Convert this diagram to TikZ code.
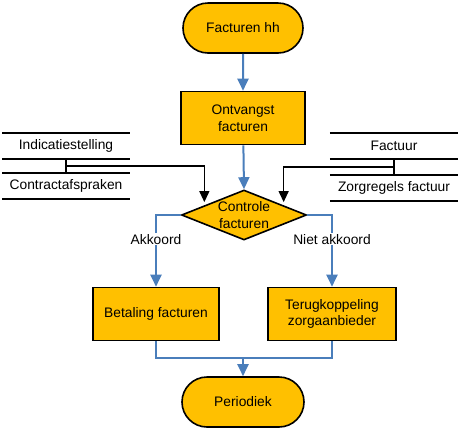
\documentclass[tikz,border=0pt]{standalone}
\usepackage{fontspec}
\setmainfont{Liberation Sans}
\usepackage{xcolor}
\usetikzlibrary{arrows.meta, shapes.geometric, shapes.misc, calc}

\definecolor{boxfill}{RGB}{255,192,0}
\definecolor{flowblue}{RGB}{74,126,187}

\begin{document}
\begin{tikzpicture}[
  x=1pt, y=-1pt,
  every node/.style = {font=\fontsize{13.8}{16.8}\selectfont, align=center},
  proc/.style     = {draw, line width=1.6pt, fill=boxfill, inner sep=2pt},
  term/.style     = {proc, rounded rectangle, minimum width=124pt, minimum height=50pt},
  actbox/.style   = {proc, minimum height=53pt},
  check/.style    = {proc, diamond, aspect=2.5, inner sep=-6pt,
                     minimum width=125pt, minimum height=50pt},
  store/.style    = {minimum height=26pt, inner sep=0pt},
  storeline/.style= {line width=1.6pt},
  flow/.style     = {-{Triangle[length=12pt, width=11pt]}, line width=2pt, flowblue},
  link/.style     = {line width=2pt, flowblue},
  feed/.style     = {-{Triangle[length=11pt, width=10pt]}, line width=1.2pt},
  lbl/.style      = {fill=white, text=black, inner sep=1pt},
]
\useasboundingbox (0,0) rectangle (461,432);

%% Main flow
\node[term]                         (fhh)  at (243, 28)  {Facturen hh};
\node[actbox, minimum width=124pt]  (ontv) at (243, 118) {Ontvangst\\facturen};
\node[check]                        (ctrl) at (244, 215) {Controle\\facturen};
\node[actbox, minimum width=126pt]  (bet)  at (156, 314) {Betaling facturen};
\node[actbox, minimum width=128pt]  (ter)  at (332, 314) {Terugkoppeling\\zorgaanbieder};
\node[term, minimum width=126pt]    (per)  at (243, 402) {Periodiek};

%% Data stores
\node[store, minimum width=127pt] (ind) at (66, 146)  {Indicatiestelling};
\node[store, minimum width=127pt] (con) at (66, 186)  {Contractafspraken};
\node[store, minimum width=128pt] (fac) at (394, 146) {Factuur};
\node[store, minimum width=128pt] (zrg) at (394, 188) {Zorgregels factuur};
\foreach \s in {ind, con, fac, zrg}
  \draw[storeline] (\s.north west) -- (\s.north east)
                   (\s.south west) -- (\s.south east);

%% Arrows along the main flow
\draw[flow] (fhh) -- (ontv);
\draw[flow] (ontv) -- (ctrl.north);
\draw[flow] (ctrl.west) -| node[lbl, pos=0.67]{Akkoord} (bet.north);
\draw[flow] (ctrl.east) -| node[lbl, pos=0.67]{Niet akkoord} (ter.north);

%% Both results merge into Periodiek
\coordinate (merge) at (243, 358);
\draw[link] (bet.south) |- (merge) -| (ter.south);
\draw[flow] (merge) -- (per.north);

%% Inputs from the data stores
\draw[line width=1.2pt] (ind.south) -- (con.north);
\draw[line width=1.2pt] (fac.south) -- (zrg.north);
\coordinate (inL) at ([xshift=-8pt]ctrl.north west);
\coordinate (inR) at ([xshift=8pt]ctrl.north east);
\draw[feed] ($(ind.south)!0.5!(con.north)$) -| (inL);
\draw[feed] ($(fac.south)!0.5!(zrg.north)$) -| (inR);

\end{tikzpicture}
\end{document}
